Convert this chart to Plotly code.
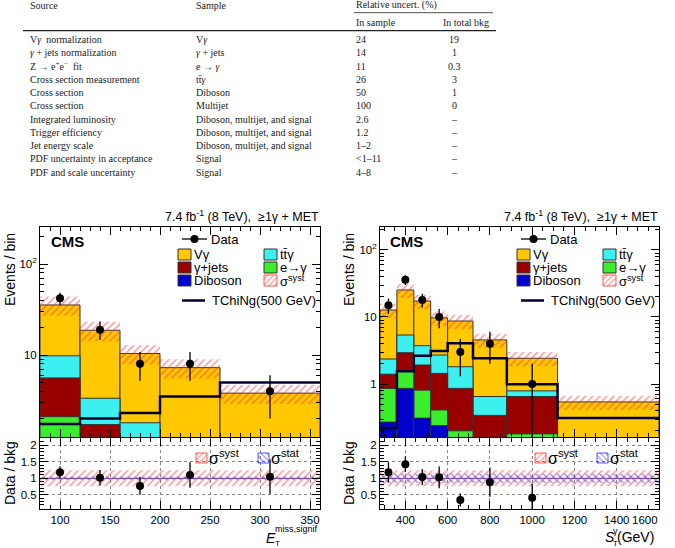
import plotly.graph_objects as go

# The page renders the figure 660 px wide (a 15 px scrollbar strip is kept on the right),
# so the figure is laid out on that width and the full 548 px height; nothing may overflow it.
W, H = 660, 548
SANS = "Liberation Sans, Arial, sans-serif"
SERIF = "Liberation Serif, Times New Roman, serif"

# ---------------- table ----------------
tab_header = ["Source", "Sample", "Relative uncert. (%)", "In sample", "In total bkg"]
tab_source = ["V<i>γ</i>  normalization", "<i>γ</i> + jets normalization", "Z → e<sup>+</sup>e<sup>−</sup>  fit",
              "Cross section measurement", "Cross section", "Cross section", "Integrated luminosity",
              "Trigger efficiency", "Jet energy scale", "PDF uncertainty in acceptance",
              "PDF and scale uncertainty"]
tab_sample = ["V<i>γ</i>", "<i>γ</i> + jets", "e → <i>γ</i>", "tt̄<i>γ</i>", "Diboson", "Multijet",
              "Diboson, multijet, and signal", "Diboson, multijet, and signal",
              "Diboson, multijet, and signal", "Signal", "Signal"]
tab_in_sample = ["24", "14", "11", "26", "50", "100", "2.6", "1.2", "1–2", "&lt;1–11", "4–8"]
tab_in_total = ["19", "1", "0.3", "3", "1", "0", "–", "–", "–", "–", "–"]

# ---------------- left panel: E_T^{miss,signif} ----------------
met_edges = [80, 120, 160, 200, 260, 360]
met_data = [42, 19, 8, 8, 4]
met_data_err = [6.5, 4.4, 2.8, 2.8, 2.0]
met_diboson = [0.05, 0.02, 0.02, 0.01, 0.01]
met_egamma = [2.05, 0.4, 0.3, 0.2, 0.1]
met_gjets = [3.5, 1.3, 0.5, 0.4, 0.3]
met_ttg = [4.2, 1.63, 0.98, 0.5, 0.4]
met_vg = [25.7, 15.35, 8.6, 6.15, 3.0]
met_signal = [1.75, 2.0, 2.3, 3.5, 5.0]
met_syst = 0.24
met_stat = 0.05
met_ticks = [100, 150, 200, 250, 300, 350]

# ---------------- right panel: S_T^gamma ----------------
st_edges = [280, 360, 440, 520, 600, 720, 880, 1120, 1600]
st_data = [15, 36, 18, 10, 3, 4, 1]
st_data_err = [3.9, 6.0, 4.2, 3.2, 1.7, 2.0, 1.0]
st_diboson = [0.27, 0.86, 0.31, 0.24, 0.10, 0.05, 0.05, 0.02]
st_egamma = [0.59, 0.74, 0.50, 0.17, 0.10, 0.07, 0.13, 0.03]
st_gjets = [0.54, 1.33, 1.11, 1.03, 0.66, 0.22, 0.47, 0.03]
st_ttg = [0.96, 2.45, 1.81, 1.27, 0.95, 0.31, 0.14, 0.04]
st_vg = [10.34, 19.9, 13.6, 7.0, 6.9, 3.9, 1.63, 0.42]
st_signal = [0.22, 1.55, 2.64, 3.1, 4.05, 2.42, 0.99, 0.31]
st_syst = 0.24
st_stat = 0.14
st_ticks = [400, 600, 800, 1000, 1200, 1400, 1600]

COLORS = ["#0000CC", "#3AEE2C", "#990000", "#3CF0F0", "#FFC800"]  # diboson, e->g, g+jets, ttg, Vg
OUTLINE = "#333333"
SIG = "#000033"
SYST = "#FF3030"
STAT = "#3030FF"

fig = go.Figure()


def add_panel(edges, comps, signal, data, derr, syst, stat, xm, ym, xr, yr):
    centers = [(a + b) / 2 for a, b in zip(edges[:-1], edges[1:])]
    widths = [b - a for a, b in zip(edges[:-1], edges[1:])]
    n = len(centers)
    cum = []
    running = [0.0] * n
    for c in comps:
        running = [r + v for r, v in zip(running, c)]
        cum.append(running)
    for i in reversed(range(len(comps))):
        fig.add_trace(go.Bar(x=centers, y=cum[i], width=widths, xaxis=xm, yaxis=ym,
                             marker=dict(color=COLORS[i], line=dict(color=OUTLINE, width=1))))
    total = cum[-1]
    fig.add_trace(go.Bar(x=centers, width=widths, base=[t * (1 - syst) for t in total],
                         y=[t * 2 * syst for t in total], xaxis=xm, yaxis=ym,
                         marker=dict(color="rgba(0,0,0,0)", line=dict(width=0),
                                     pattern=dict(shape="/", fgcolor=SYST, bgcolor="rgba(0,0,0,0)",
                                                  size=5, solidity=0.3, fillmode="overlay"))))
    fig.add_trace(go.Scatter(x=edges, y=signal + [signal[-1]], mode="lines", xaxis=xm, yaxis=ym,
                             line=dict(shape="hv", color=SIG, width=2.5)))
    nd = len(data)
    fig.add_trace(go.Scatter(x=centers[:nd], y=data, mode="markers", xaxis=xm, yaxis=ym,
                             marker=dict(size=8, color="black"),
                             error_y=dict(type="data", array=derr, thickness=1.3, width=0, color="black")))
    # ratio
    fig.add_trace(go.Bar(x=centers, width=widths, base=[1 - syst] * n, y=[2 * syst] * n, xaxis=xr, yaxis=yr,
                         marker=dict(color="rgba(0,0,0,0)", line=dict(width=0),
                                     pattern=dict(shape="/", fgcolor=SYST, bgcolor="rgba(0,0,0,0)",
                                                  size=5, solidity=0.3, fillmode="overlay"))))
    fig.add_trace(go.Bar(x=centers, width=widths, base=[1 - stat] * n, y=[2 * stat] * n, xaxis=xr, yaxis=yr,
                         marker=dict(color="rgba(0,0,0,0)", line=dict(width=0),
                                     pattern=dict(shape="\\", fgcolor=STAT, bgcolor="rgba(0,0,0,0)",
                                                  size=5, solidity=0.3, fillmode="overlay"))))
    fig.add_trace(go.Scatter(x=[edges[0], edges[-1]], y=[1, 1], mode="lines", xaxis=xr, yaxis=yr,
                             line=dict(color="#7040C0", width=1)))
    fig.add_trace(go.Scatter(x=centers[:nd], y=[d / t for d, t in zip(data, total)], mode="markers",
                             xaxis=xr, yaxis=yr, marker=dict(size=8, color="black"),
                             error_y=dict(type="data", array=[e / t for e, t in zip(derr, total)],
                                          thickness=1.3, width=0, color="black")))


add_panel(met_edges, [met_diboson, met_egamma, met_gjets, met_ttg, met_vg], met_signal,
          met_data, met_data_err, met_syst, met_stat, "x", "y", "x2", "y2")
add_panel(st_edges, [st_diboson, st_egamma, st_gjets, st_ttg, st_vg], st_signal,
          st_data, st_data_err, st_syst, st_stat, "x3", "y3", "x4", "y4")

# ---------------- overlay (pixel) helpers ----------------
OV = dict(xaxis="x5", yaxis="y5")


def box(x0, x1, y0, y1, color, pattern=None, line=OUTLINE):
    m = dict(color=color, line=dict(color=line, width=1))
    if pattern:
        m = dict(color="rgba(0,0,0,0)", line=dict(color=pattern[1], width=0.8),
                 pattern=dict(shape=pattern[0], fgcolor=pattern[1], bgcolor="rgba(0,0,0,0)",
                              size=4, solidity=0.3, fillmode="overlay"))
    fig.add_trace(go.Bar(x=[(x0 + x1) / 2], width=[x1 - x0], base=[y0], y=[y1 - y0], marker=m, **OV))


def txt(x, y, s, size=13, anchor="left", family=SANS, color="black", angle=0, yanchor="middle"):
    fig.add_annotation(x=x, y=y, xref="x5", yref="y5", text=s, showarrow=False, xanchor=anchor,
                       yanchor=yanchor, font=dict(family=family, size=size, color=color),
                       textangle=angle, borderpad=0)


# table
TC = "#222222"
TS = 10
txt(29, 5, tab_header[0], TS, family=SERIF, color=TC)
txt(195, 5, tab_header[1], TS, family=SERIF, color=TC)
txt(355, 5, tab_header[2], TS, family=SERIF, color=TC)
txt(355, 22, tab_header[3], TS, family=SERIF, color=TC)
txt(490, 22, tab_header[4], TS, anchor="right", family=SERIF, color=TC)
for i in range(len(tab_source)):
    yy = 39.5 + i * 13.25
    txt(29, yy, tab_source[i], TS, family=SERIF, color=TC)
    txt(195, yy, tab_sample[i], TS, family=SERIF, color=TC)
    txt(355, yy, tab_in_sample[i], TS, family=SERIF, color=TC)
    txt(454, yy, tab_in_total[i], TS, anchor="center", family=SERIF, color=TC)
fig.add_shape(type="line", xref="x5", yref="y5", x0=354, x1=493, y0=12.7, y1=12.7, line=dict(color=TC, width=0.8))
fig.add_shape(type="line", xref="x5", yref="y5", x0=23, x1=496, y0=30.7, y1=30.7, line=dict(color=TC, width=1.2))

# plot decorations for both panels (right panel shifted)
for dx in (0, 339):
    txt(320 + dx, 216, "7.4 fb<sup>-1</sup> (8 TeV),&nbsp; ≥1γ + MET", 12.5, anchor="right")
    txt(50 + dx, 241, "<b>CMS</b>", 15)
    txt(10 + dx, 270, "Events / bin", 14, anchor="center", angle=-90)
    txt(10 + dx, 473, "Data / bkg", 14, anchor="center", angle=-90)
    # legend
    fig.add_trace(go.Scatter(x=[182 + dx, 207 + dx], y=[239, 239], mode="lines",
                             line=dict(color="black", width=1.3), **OV))
    fig.add_trace(go.Scatter(x=[194.5 + dx], y=[239], mode="markers", marker=dict(color="black", size=8), **OV))
    txt(210 + dx, 239, "Data", 13)
    box(178 + dx, 191 + dx, 249, 260, COLORS[4])
    txt(193 + dx, 254.5, "Vγ", 13)
    box(264 + dx, 277 + dx, 249, 260, COLORS[3])
    txt(279 + dx, 254.5, "tt̄γ", 13)
    box(178 + dx, 191 + dx, 262, 273, COLORS[2])
    txt(193 + dx, 267.5, "γ+jets", 13)
    box(264 + dx, 277 + dx, 262, 273, COLORS[1])
    txt(279 + dx, 267.5, "e→γ", 13)
    box(178 + dx, 191 + dx, 275, 286, COLORS[0])
    txt(193 + dx, 280.5, "Diboson", 13)
    box(264 + dx, 277 + dx, 275, 286, None, pattern=("/", SYST))
    txt(279 + dx, 280.5, "σ<sup>syst</sup>", 13)
    fig.add_trace(go.Scatter(x=[182 + dx, 205 + dx], y=[300.5, 300.5], mode="lines",
                             line=dict(color=SIG, width=2.5), **OV))
    txt(211 + dx, 300.5, "TChiNg(500 GeV)", 13)
    # ratio legend
    box(196 + dx, 207 + dx, 453, 463, None, pattern=("/", SYST))
    txt(208 + dx, 457, "σ<sup>syst</sup>", 16)
    box(258 + dx, 269 + dx, 453, 463, None, pattern=("\\", STAT))
    txt(270 + dx, 457, "σ<sup>stat</sup>", 16)

# the last S_T tick label would overflow the page edge; it is drawn flush with the edge instead
txt(659, 520, str(st_ticks[-1]), 11.5, anchor="right")

# axis titles (kept inside the page)
txt(265, 538, "<i>E</i>", 14)
txt(274, 543, "T", 8)
txt(274, 529, "miss,signif", 9)
txt(604, 537, "<i>S</i>", 14)
txt(612, 543, "T", 8)
txt(612, 531, "γ", 9)
txt(655, 537, "(GeV)", 14, anchor="right")


def dom_x(a, b):
    return [a / W, min(b / W, 1.0)]


def dom_y(top, bottom):
    return [1 - bottom / H, 1 - top / H]


base_ax = dict(showline=True, linecolor="black", linewidth=1, mirror="allticks", ticks="inside",
               ticklen=8, tickwidth=1, tickcolor="black", zeroline=False, showgrid=False,
               tickfont=dict(family=SANS, size=11.5, color="black"), fixedrange=True)
grid = dict(showgrid=True, gridcolor="#888888", griddash="dot", gridwidth=1)

minor_log_l = [m * 10 ** k for k in range(0, 3) for m in range(2, 10)]
minor_log_r = [m * 10 ** k for k in range(-1, 3) for m in range(2, 10)]

fig.update_layout(
    width=W, height=H, margin=dict(l=0, r=0, t=0, b=0), autosize=False,
    paper_bgcolor="white", plot_bgcolor="rgba(0,0,0,0)", showlegend=False, barmode="overlay",
    xaxis=dict(base_ax, domain=dom_x(40, 320), anchor="y", range=[80, 360], tickmode="array",
               tickvals=met_ticks, showticklabels=False,
               minor=dict(ticks="inside", ticklen=4, dtick=10, tickcolor="black")),
    yaxis=dict(base_ax, domain=dom_y(227, 437), anchor="x", type="log", range=[0.099, 2.407],
               tickmode="array", tickvals=[10, 100], ticktext=["10", "10<sup>2</sup>"],
               minor=dict(ticks="inside", ticklen=4, tickmode="array", tickvals=minor_log_l, tickcolor="black")),
    xaxis2=dict(base_ax, **grid, domain=dom_x(40, 320), anchor="y2", range=[80, 360], tickmode="array",
                tickvals=met_ticks, ticktext=[str(v) for v in met_ticks],
                minor=dict(ticks="inside", ticklen=4, dtick=10, tickcolor="black")),
    yaxis2=dict(base_ax, **grid, domain=dom_y(438, 509), anchor="x2", range=[0.07, 2.22],
                tickmode="array", tickvals=[0.5, 1, 1.5, 2], ticktext=["0.5", "1", "1.5", "2"],
                minor=dict(ticks="inside", ticklen=4, dtick=0.1, tickcolor="black")),
    xaxis3=dict(base_ax, domain=dom_x(380, 659), anchor="y3", range=[280, 1600], tickmode="array",
                tickvals=st_ticks, showticklabels=False,
                minor=dict(ticks="inside", ticklen=4, dtick=50, tickcolor="black")),
    yaxis3=dict(base_ax, domain=dom_y(227, 437), anchor="x3", type="log", range=[-0.791, 2.343],
                tickmode="array", tickvals=[1, 10, 100], ticktext=["1", "10", "10<sup>2</sup>"],
                minor=dict(ticks="inside", ticklen=4, tickmode="array", tickvals=minor_log_r, tickcolor="black")),
    xaxis4=dict(base_ax, **grid, domain=dom_x(380, 659), anchor="y4", range=[280, 1600], tickmode="array",
                tickvals=st_ticks, ticktext=[str(v) for v in st_ticks[:-1]] + [""],
                minor=dict(ticks="inside", ticklen=4, dtick=50, tickcolor="black")),
    yaxis4=dict(base_ax, **grid, domain=dom_y(438, 509), anchor="x4", range=[0.07, 2.22],
                tickmode="array", tickvals=[0.5, 1, 1.5, 2], ticktext=["0.5", "1", "1.5", "2"],
                minor=dict(ticks="inside", ticklen=4, dtick=0.1, tickcolor="black")),
    xaxis5=dict(domain=[0, 1], anchor="y5", range=[0, W], visible=False, fixedrange=True),
    yaxis5=dict(domain=[0, 1], anchor="x5", range=[H, 0], visible=False, fixedrange=True),
)

fig.write_html("out.html")
